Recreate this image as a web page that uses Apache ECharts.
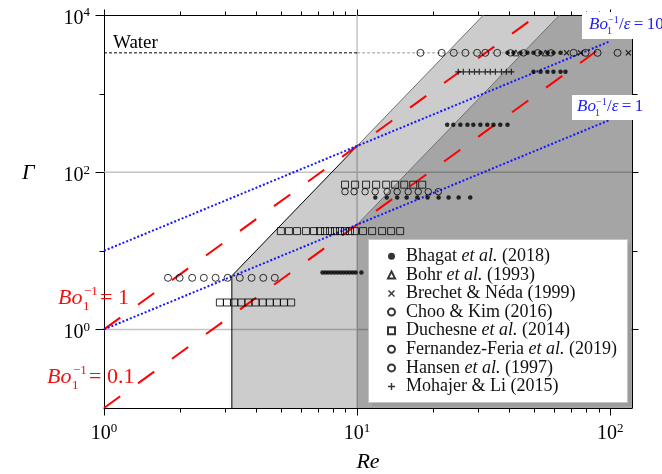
<!DOCTYPE html>
<html>
<head>
<meta charset="utf-8">
<script src="https://cdn.jsdelivr.net/npm/echarts@6/dist/echarts.min.js"></script>
<style>
html, body { margin: 0; padding: 0; background: #fff; }
#chart { width: 662px; height: 474px; }
</style>
</head>
<body>
<div id="chart"></div>
<script>
var serif = '"Liberation Serif", "DejaVu Serif", serif';

// axis ranges
var reMin = 1, reMax = 122;
var gMin = 0.1, gMax = 10000;

// ticks
var xMajorTicks = [1, 10, 100];
var xMinorTicks = [2, 3, 4, 5, 6, 7, 8, 9, 20, 30, 40, 50, 60, 70, 80, 90];
var yMajorTicks = [1, 100, 10000];
var yMinorTicks = [10, 1000];

// gridlines
var gridV = [[10, 0.1], [10, 10000]];
var gridH1 = [[1, 1], [122, 1]];
var gridH100 = [[1, 100], [122, 100]];

// shaded regimes
var lightRegion = [[3.2, 0.1], [3.2, 4.8], [10, 215], [31.6, 10000], [122, 10000], [122, 0.1]];
var darkRegion = [[10, 0.1], [10, 21.5], [63.1, 10000], [122, 10000], [122, 0.1]];
var lightEdgeLow = [[3.2, 0.1], [3.2, 4.8], [10, 215]];
var lightEdgeHigh = [[10, 215], [31.6, 10000]];
var darkEdge = [[10, 21.5], [63.1, 10000]];

// water
var waterLeft = [[1, 3300], [10, 3300]];
var waterRight = [[10, 3300], [122, 3300]];

// Bo lines
var boLine1 = [[1, 1], [100, 46400]];
var boLine01 = [[1, 0.1], [100, 4640]];
var boEps1 = [[1, 1], [100, 464]];
var boEps10 = [[1, 10], [100, 4640]];

// data sets [Re, Gamma]
var bhagat = [
  [7.3, 5.3], [7.5, 5.3], [7.7, 5.3], [7.92, 5.3], [8.14, 5.3], [8.37, 5.3], [8.6, 5.3], [8.84, 5.3],
  [9.09, 5.3], [9.34, 5.3], [9.6, 5.3], [9.87, 5.3], [10.4, 5.3],
  [11.8, 47.5], [13.1, 47.5], [14.4, 47.5], [15.7, 47.5], [17.3, 47.5], [19.0, 47.5], [21.0, 47.5],
  [23.0, 47.5], [25.2, 47.5], [28.0, 47.5],
  [22.7, 401], [24.0, 401], [25.6, 401], [27.3, 401], [28.8, 401], [30.7, 401], [32.7, 401],
  [34.6, 401], [36.8, 401], [39.3, 401],
  [49.8, 1890], [53.1, 1890], [56.5, 1890], [59.7, 1890], [63.7, 1890], [66.6, 1890],
  [39.3, 3300], [41.5, 3300], [44.2, 3300], [47.1, 3300], [49.8, 3300], [53.1, 3300], [56.6, 3300],
  [59.7, 3300], [63.7, 3300]
];
var bohr = [[42.4, 3300], [55.5, 3300]];
var brechet = [[67.3, 3300], [76.4, 3300], [118, 3300]];
var choo = [
  [17.8, 3300], [21.6, 3300], [24.1, 3300], [26.8, 3300], [29.8, 3300], [32.1, 3300], [35.8, 3300],
  [71.7, 3300], [80.0, 3300], [89.2, 3300], [107, 3300]
];
var duchesne = [
  [2.87, 2.2], [3.06, 2.2], [3.27, 2.2], [3.49, 2.2], [3.72, 2.2], [3.97, 2.2], [4.24, 2.2],
  [4.52, 2.2], [4.82, 2.2], [5.14, 2.2], [5.49, 2.2],
  [5.0, 17.8], [5.38, 17.8], [5.79, 17.8], [6.28, 17.8], [6.76, 17.8], [7.14, 17.8], [7.47, 17.8],
  [7.82, 17.8], [8.18, 17.8], [8.56, 17.8], [8.96, 17.8], [9.38, 17.8], [9.82, 17.8], [10.56, 17.8],
  [11.47, 17.8], [12.56, 17.8], [13.63, 17.8], [14.8, 17.8],
  [8.96, 69.4], [9.82, 69.4], [10.85, 69.4], [11.89, 69.4], [13.03, 69.4], [14.14, 69.4],
  [15.36, 69.4], [16.67, 69.4], [18.09, 69.4]
];
var fernandez = [
  [8.96, 56.5], [9.73, 56.5], [10.76, 56.5], [11.79, 56.5], [13.15, 56.5], [14.4, 56.5],
  [15.92, 56.5], [17.44, 56.5], [19.11, 56.5], [20.94, 56.5],
  [40.4, 3300], [45.5, 3300], [51.7, 3300], [58.4, 3300]
];
var hansen = [
  [1.79, 4.53], [1.99, 4.53], [2.23, 4.53], [2.48, 4.53], [2.76, 4.53], [3.08, 4.53], [3.44, 4.53],
  [3.83, 4.53], [4.26, 4.53], [4.73, 4.53]
];
var mohajer = [
  [25.1, 1890], [26.3, 1890], [27.8, 1890], [29.1, 1890], [30.4, 1890], [32.1, 1890], [33.6, 1890],
  [35.2, 1890], [37.2, 1890], [38.9, 1890], [40.7, 1890]
];

var crossPath = 'path://M0.7,0L2.5,1.8L4.3,0L5,0.7L3.2,2.5L5,4.3L4.3,5L2.5,3.2L0.7,5L0,4.3L1.8,2.5L0,0.7Z';
var plusPath = 'path://M2,0H3V2H5V3H3V5H2V3H0V2H2Z';
var openStyle = { color: 'rgba(0,0,0,0)', borderColor: '#000', borderWidth: 1 };

function region(points, color, z) {
  return {
    type: 'custom', silent: true, z: z, clip: true,
    data: [points[0]],
    renderItem: function (params, api) {
      return {
        type: 'polygon',
        shape: { points: points.map(function (p) { return api.coord(p); }) },
        style: { fill: color }
      };
    }
  };
}

function line(data, color, width, type, z) {
  return {
    type: 'line', data: data, showSymbol: false, silent: true, z: z,
    lineStyle: { color: color, width: width, type: type },
    emphasis: { disabled: true }
  };
}

function ticks(values, side, len) {
  return {
    type: 'custom', silent: true, z: 9, clip: false,
    data: values.map(function (v) {
      if (side === 'b') return [v, gMin];
      if (side === 't') return [v, gMax];
      if (side === 'l') return [reMin, v];
      return [reMax, v];
    }),
    renderItem: function (params, api) {
      var p = api.coord([api.value(0), api.value(1)]);
      var x = Math.round(p[0]) + 0.5, y = Math.round(p[1]) + 0.5;
      var s = { x1: x, y1: y, x2: x, y2: y };
      if (side === 'b') s.y2 = y + len;
      if (side === 't') s.y2 = y - len;
      if (side === 'l') s.x2 = x - len;
      if (side === 'r') s.x2 = x + len;
      return { type: 'line', shape: s, style: { stroke: '#000', lineWidth: 1 } };
    }
  };
}

function scatter(name, data, symbol, size, style) {
  return {
    name: name, type: 'scatter', data: data, symbol: symbol, symbolSize: size,
    itemStyle: style, z: 7, silent: true
  };
}

function powLabel(v, evenOnly) {
  var l = Math.log10(v), e = Math.round(l);
  if (Math.abs(l - e) > 1e-6) return '';
  if (evenOnly && e % 2 !== 0) return '';
  return '{b|10}{s|' + e + '}';
}

var labelRich = {
  b: { fontFamily: serif, fontSize: 20, lineHeight: 24, color: '#000' },
  s: { fontFamily: serif, fontSize: 13, lineHeight: 17, verticalAlign: 'top', color: '#000' }
};

// Bo_1^{-1} label: offsets = [sup, sub, tail]
function boLabel(x, y, color, size, off, tail) {
  var sub = Math.round(size * 0.6);
  return [
    { type: 'text', x: x, y: y, z: 60, style: { text: 'Bo', font: 'italic ' + size + 'px ' + serif, fill: color, verticalAlign: 'middle' } },
    { type: 'text', x: x + off[0], y: y - size * 0.3, z: 60, style: { text: '\u22121', font: sub + 'px ' + serif, fill: color, verticalAlign: 'middle' } },
    { type: 'text', x: x + off[1], y: y + size * 0.4, z: 60, style: { text: '1', font: sub + 'px ' + serif, fill: color, verticalAlign: 'middle' } },
    { type: 'text', x: x + off[2], y: y, z: 60, style: {
      text: tail, font: size + 'px ' + serif, fill: color, verticalAlign: 'middle',
      rich: { i: { font: 'italic ' + size + 'px ' + serif, fill: color } }
    } }
  ];
}

var legendNames = ['Bhagat et al. (2018)', 'Bohr et al. (1993)', 'Brechet & Néda (1999)', 'Choo & Kim (2016)',
  'Duchesne et al. (2014)', 'Fernandez-Feria et al. (2019)', 'Hansen et al. (1997)', 'Mohajer & Li (2015)'];

var chart = echarts.init(document.getElementById('chart'), null, { renderer: 'canvas' });

var graphics = [
  { type: 'rect', z: 40, shape: { x: 372, y: 243, width: 259, height: 163 }, style: { fill: '#9c9c9c' } },
  { type: 'rect', z: 41, shape: { x: 368.5, y: 239.5, width: 259, height: 163 }, style: { fill: '#fff', stroke: '#c4c4c4', lineWidth: 1 } },
  { type: 'rect', z: 55, shape: { x: 582, y: 12, width: 80, height: 27 }, style: { fill: '#fff' } },
  { type: 'rect', z: 55, shape: { x: 572, y: 95, width: 74, height: 25 }, style: { fill: '#fff' } },
  { type: 'text', x: 113, y: 43, z: 60, style: { text: 'Water', font: '19px ' + serif, fill: '#000', verticalAlign: 'middle' } },
  { type: 'text', x: 22, y: 173, z: 60, style: { text: '\u0393', font: 'italic 22px ' + serif, fill: '#000', verticalAlign: 'middle' } }
].concat(
  boLabel(58, 298, '#f01010', 22, [26, 25, 42], '= 1'),
  boLabel(47, 377, '#f01010', 22, [26, 25, 42], '= 0.1'),
  boLabel(589, 25, '#2020f0', 17, [19, 18, 30], '/{i|\u03b5}\u2009=\u200910'),
  boLabel(577, 107, '#2020f0', 17, [19, 18, 30], '/{i|\u03b5}\u2009=\u20091')
);

chart.setOption({
  animation: false,
  backgroundColor: '#fff',
  grid: { left: 104, right: 30, top: 15, bottom: 66, containLabel: false, outerBoundsMode: 'none' },
  xAxis: [
    {
      type: 'log', logBase: 10, min: reMin, max: reMax, position: 'bottom',
      axisLine: { show: true, lineStyle: { color: '#000', width: 1 } },
      axisTick: { show: false }, splitLine: { show: false },
      axisLabel: { margin: 14, formatter: function (v) { return powLabel(v, false); }, rich: labelRich },
      name: 'Re', nameLocation: 'middle', nameGap: 43,
      nameTextStyle: { fontFamily: serif, fontStyle: 'italic', fontSize: 22, color: '#000' }
    },
    {
      type: 'log', logBase: 10, min: reMin, max: reMax, position: 'top',
      axisLine: { show: true, lineStyle: { color: '#000', width: 1 } },
      axisTick: { show: false }, splitLine: { show: false }, axisLabel: { show: false }
    }
  ],
  yAxis: [
    {
      type: 'log', logBase: 10, min: gMin, max: gMax, position: 'left',
      axisLine: { show: true, lineStyle: { color: '#000', width: 1 } },
      axisTick: { show: false }, splitLine: { show: false },
      axisLabel: { margin: 14, padding: [7, 0, 0, 0], formatter: function (v) { return powLabel(v, true); }, rich: labelRich }
    },
    {
      type: 'log', logBase: 10, min: gMin, max: gMax, position: 'right',
      axisLine: { show: true, lineStyle: { color: '#000', width: 1 } },
      axisTick: { show: false }, splitLine: { show: false }, axisLabel: { show: false }
    }
  ],
  legend: {
    data: legendNames, orient: 'vertical', left: 387, top: 247, padding: 0, itemGap: 0,
    itemWidth: 7, itemHeight: 7, selectedMode: false, z: 50,
    formatter: function (name) { return '{g|}' + name.replace('et al.', '{i|et al.}'); },
    textStyle: {
      fontFamily: serif, fontSize: 18, color: '#111', lineHeight: 18.6,
      rich: {
        i: { fontFamily: serif, fontSize: 18, fontStyle: 'italic', color: '#111', lineHeight: 18.6 },
        g: { width: 6 }
      }
    }
  },
  graphic: graphics,
  series: [
    line(gridV, '#c4c4c4', 1.5, 'solid', 1),
    line(gridH1, '#c4c4c4', 1.5, 'solid', 1),
    line(gridH100, '#c4c4c4', 1.5, 'solid', 1),
    region(lightRegion, 'rgba(0,0,0,0.2)', 2),
    region(darkRegion, 'rgba(0,0,0,0.19)', 3),
    line(lightEdgeLow, '#000', 1, 'solid', 4),
    line(lightEdgeHigh, '#707070', 1, 'solid', 4),
    line(darkEdge, '#707070', 1, 'solid', 4),
    line(waterLeft, '#000', 1, [3, 2], 5),
    line(waterRight, '#9a9a9a', 1, [3, 2], 5),
    line(boLine1, '#ff0000', 2, [20, 22], 6),
    line(boLine01, '#ff0000', 2, [20, 22], 6),
    line(boEps1, '#1515ff', 2, [2, 2], 6),
    line(boEps10, '#1515ff', 2, [2, 2], 6),
    scatter('Bhagat et al. (2018)', bhagat, 'circle', 4.5, { color: '#000' }),
    scatter('Bohr et al. (1993)', bohr, 'triangle', 6, openStyle),
    scatter('Brechet & Néda (1999)', brechet, crossPath, 6, { color: '#000' }),
    scatter('Choo & Kim (2016)', choo, 'circle', 7, openStyle),
    scatter('Duchesne et al. (2014)', duchesne, 'rect', 7, openStyle),
    scatter('Fernandez-Feria et al. (2019)', fernandez, 'circle', 6.5, openStyle),
    scatter('Hansen et al. (1997)', hansen, 'circle', 7, openStyle),
    scatter('Mohajer & Li (2015)', mohajer, plusPath, 6, { color: '#000' }),
    ticks(xMajorTicks, 'b', 7),
    ticks(xMinorTicks, 'b', 4),
    ticks(xMajorTicks, 't', 6),
    ticks(xMinorTicks, 't', 4),
    ticks(yMajorTicks, 'l', 9),
    ticks(yMinorTicks, 'l', 5),
    ticks(yMajorTicks, 'r', 6),
    ticks(yMinorTicks, 'r', 5)
  ]
});
</script>
</body>
</html>
